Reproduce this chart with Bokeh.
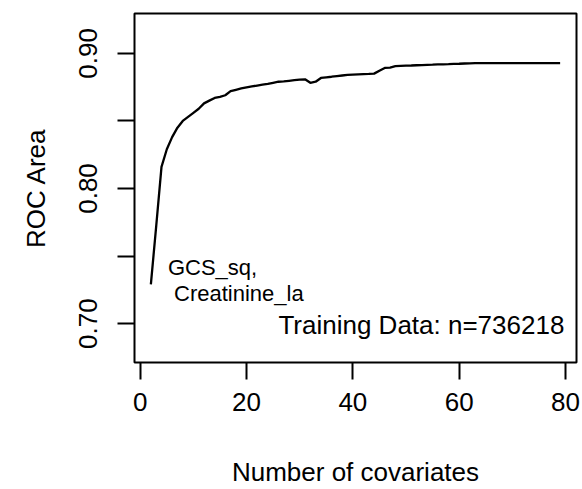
import math
from bokeh.plotting import figure
from bokeh.models import Range1d, FixedTicker, Label, CustomJSTickFormatter
from bokeh.embed import file_html
from bokeh.resources import INLINE

# ROC area as covariates are added one at a time (training data)
n_covariates = [2, 3, 4, 5, 6, 7, 8, 9, 10, 11, 12, 13, 14, 15, 16, 17, 18, 19, 20,
                21, 22, 23, 24, 25, 26, 27, 28, 29, 30, 31, 32, 33, 34, 35, 36, 37, 38, 39, 40,
                41, 42, 43, 44, 45, 46, 47, 48, 49, 50, 51, 52, 53, 54, 55, 56, 57, 58, 59, 60,
                61, 62, 63, 64, 65, 66, 67, 68, 69, 70, 71, 72, 73, 74, 75, 76, 77, 78, 79]
roc_area = [0.729, 0.772, 0.816, 0.829, 0.838, 0.845, 0.850, 0.853, 0.856, 0.859,
            0.863, 0.865, 0.867, 0.8678, 0.869, 0.872, 0.873, 0.874, 0.8748, 0.8755,
            0.8762, 0.8768, 0.8774, 0.8782, 0.8790, 0.8792, 0.8797, 0.8802, 0.8806, 0.8808,
            0.8782, 0.8790, 0.8818, 0.8823, 0.8827, 0.8832, 0.8836, 0.8840, 0.8843, 0.8845,
            0.8847, 0.8848, 0.8850, 0.8872, 0.8892, 0.8895, 0.8905, 0.8907, 0.8909, 0.8910,
            0.8912, 0.8913, 0.8915, 0.8916, 0.8918, 0.8919, 0.8920, 0.8922, 0.8923, 0.8925,
            0.8926, 0.8928, 0.8928, 0.8928, 0.8928, 0.8928, 0.8928, 0.8928, 0.8928, 0.8928,
            0.8928, 0.8928, 0.8928, 0.8928, 0.8928, 0.8928, 0.8928, 0.8928]

x_ticks = [0, 20, 40, 60, 80]
y_ticks = [0.70, 0.75, 0.80, 0.85, 0.90]
first_label = ["GCS_sq,", "Creatinine_la"]
note = "Training Data: n=736218"

FONT = "Liberation Sans"
x_lo, x_hi = -1.08, 82.08
y_lo, y_hi = 0.6712, 0.9295

p = figure(width=582, height=489, output_backend="svg", toolbar_location=None,
           x_range=Range1d(x_lo, x_hi), y_range=Range1d(y_lo, y_hi),
           min_border_left=134, min_border_right=6, min_border_top=13,
           min_border_bottom=126)
p.background_fill_color = "white"
p.border_fill_color = "white"
p.outline_line_color = "black"
p.outline_line_width = 2
p.grid.visible = False

p.line(n_covariates, roc_area, line_color="black", line_width=2.3)

for ax in (p.xaxis[0], p.yaxis[0]):
    ax.axis_line_color = None
    ax.major_tick_line_color = "black"
    ax.major_tick_line_width = 2
    ax.major_tick_out = 17
    ax.major_tick_in = 0
    ax.minor_tick_line_color = None
    ax.major_label_text_font = FONT
    ax.major_label_text_font_size = "26px"
    ax.major_label_text_color = "black"
    ax.axis_label_text_font = FONT
    ax.axis_label_text_font_size = "26px"
    ax.axis_label_text_font_style = "normal"
    ax.axis_label_text_color = "black"

p.xaxis.ticker = FixedTicker(ticks=x_ticks)
p.xaxis.major_label_standoff = 13
p.xaxis.axis_label = "Number of covariates"
p.xaxis.axis_label_standoff = 43

p.yaxis.ticker = FixedTicker(ticks=y_ticks)
p.yaxis.major_label_orientation = "parallel"
p.yaxis.major_label_standoff = 20
p.yaxis.formatter = CustomJSTickFormatter(
    code="const v = Math.round(tick * 100); return (v % 10 === 0) ? tick.toFixed(2) : '';")
p.yaxis.axis_label = "ROC Area"
p.yaxis.axis_label_standoff = 26

p.add_layout(Label(x=5.2, y=0.7414, text=first_label[0], text_align="left",
                   text_baseline="alphabetic", text_font=FONT, text_font_size="22px",
                   text_color="black"))
p.add_layout(Label(x=6.35, y=0.7222, text=first_label[1], text_align="left",
                   text_baseline="alphabetic", text_font=FONT, text_font_size="22px",
                   text_color="black"))
p.add_layout(Label(x=79.8, y=0.6993, text=note, text_align="right",
                   text_baseline="alphabetic", text_font=FONT, text_font_size="26px",
                   text_color="black"))

open("out.html", "w").write(file_html(p, INLINE))
